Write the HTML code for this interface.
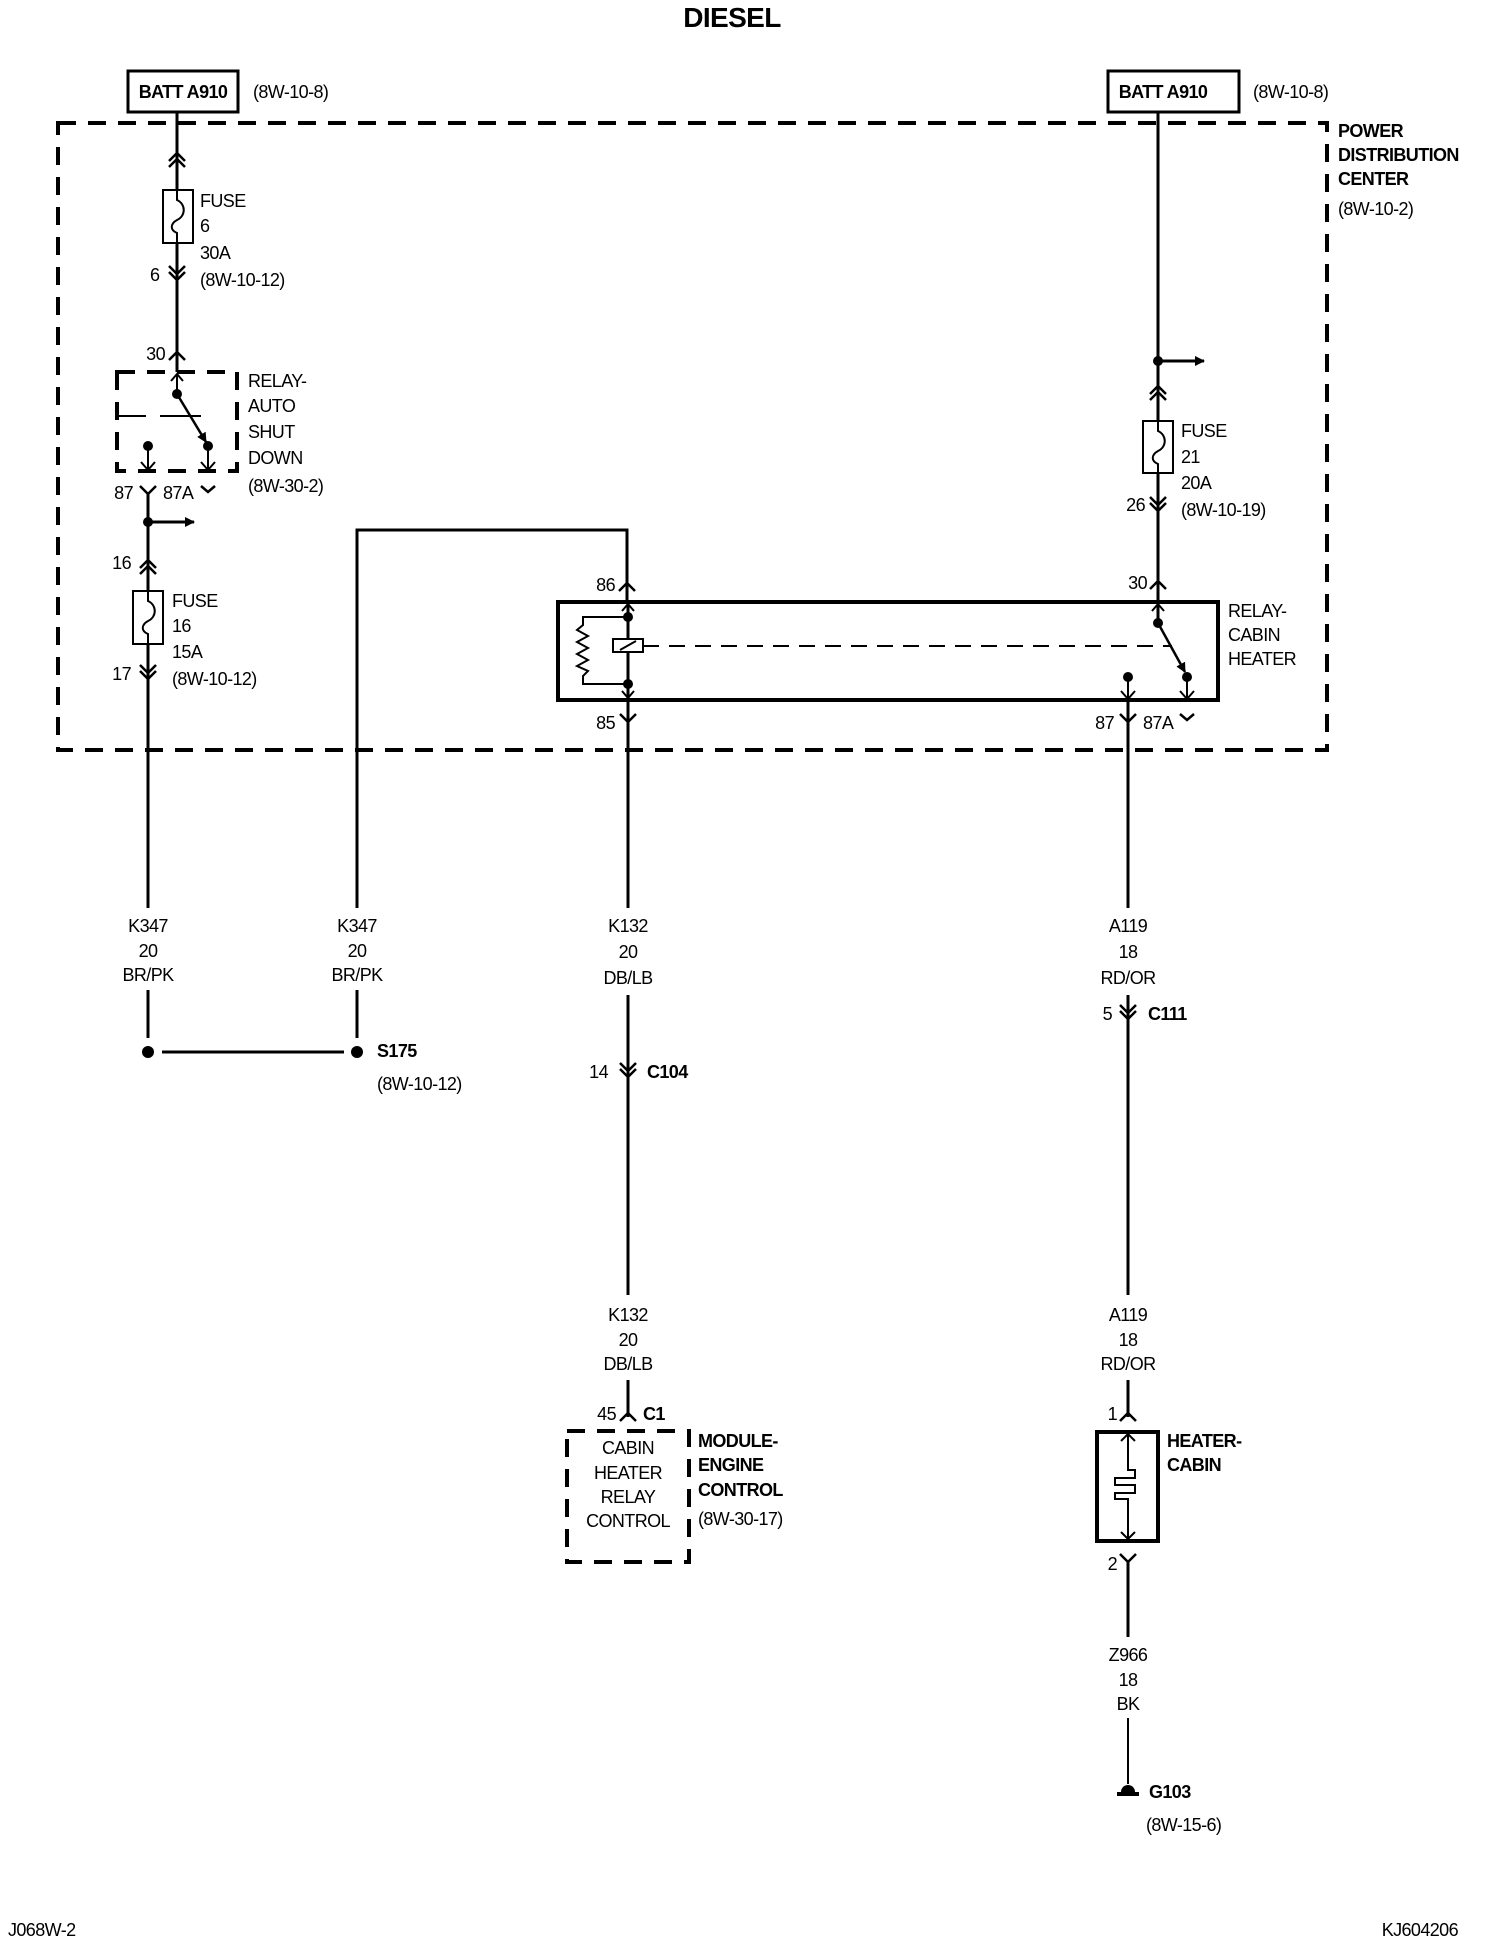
<!DOCTYPE html>
<html><head><meta charset="utf-8"><style>
html,body{margin:0;padding:0;background:#fff;}
svg{display:block;}
text{font-family:"Liberation Sans Narrow","Liberation Sans",sans-serif;font-size:18px;letter-spacing:-0.6px;fill:#000;}
.b{font-weight:bold;}
</style></head><body>
<svg width="1504" height="1950" viewBox="0 0 1504 1950" xmlns="http://www.w3.org/2000/svg">
<defs>
<marker id="ah" markerWidth="10" markerHeight="10" refX="9" refY="5" orient="auto" markerUnits="userSpaceOnUse"><path d="M0,0 L10,5 L0,10 z" fill="#000"/></marker>
</defs>
<g fill="none" stroke="#000">
<rect x="58" y="123" width="1269" height="627" stroke-width="4" stroke-dasharray="18 12"/>
<rect x="128" y="71" width="110" height="41" stroke-width="3"/>
<rect x="1108" y="71" width="131" height="41" stroke-width="3"/>

<line x1="177" y1="112" x2="177" y2="372" stroke-width="3"/>
<path d="M169,161 L177,153 L185,161 M169,167 L177,159 L185,167" stroke-width="2.5"/>
<rect x="163" y="190" width="30" height="53" stroke-width="2" fill="#fff"/>
<path d="M177,190 L177,200 C186,204 186,216 177,220 C170,224 170,230 177,233 L177,243" stroke-width="2"/>
<path d="M169,266 L177,274 L185,266 M169,272 L177,280 L185,272" stroke-width="2.5"/>
<path d="M169,360 L177,352 L185,360" stroke-width="2.5"/>

<path d="M117,372 L237,372 L237,471 L117,471 Z" stroke-width="4" stroke-dasharray="18 12"/>
<line x1="117" y1="416" x2="146" y2="416" stroke-width="2"/>
<line x1="160" y1="416" x2="201" y2="416" stroke-width="2"/>
<line x1="177" y1="394" x2="177" y2="374" stroke-width="2"/>
<path d="M171,381 L177,374 L183,381" stroke-width="2"/>
<line x1="177" y1="394" x2="206" y2="442" stroke-width="2.5" marker-end="url(#ah)"/>
<line x1="148" y1="446" x2="148" y2="470" stroke-width="2"/>
<path d="M141,462 L148,470 L155,462" stroke-width="2"/>
<line x1="208" y1="446" x2="208" y2="470" stroke-width="2"/>
<path d="M201,462 L208,470 L215,462" stroke-width="2"/>
<path d="M140,486 L148,494 L156,486 M201,486 L208,492 L215,486" stroke-width="2.5"/>

<line x1="148" y1="494" x2="148" y2="908" stroke-width="3"/>
<line x1="148" y1="522" x2="194" y2="522" stroke-width="3" marker-end="url(#ah)"/>
<path d="M140,568 L148,560 L156,568 M140,574 L148,566 L156,574" stroke-width="2.5"/>
<rect x="133" y="591" width="30" height="53" stroke-width="2" fill="#fff"/>
<path d="M148,591 L148,601 C157,605 157,617 148,621 C141,625 141,631 148,634 L148,644" stroke-width="2"/>
<path d="M140,665 L148,673 L156,665 M140,671 L148,679 L156,671" stroke-width="2.5"/>

<path d="M357,908 L357,530 L627,530 L627,602" stroke-width="3"/>
<line x1="357" y1="990" x2="357" y2="1038" stroke-width="3"/>
<line x1="148" y1="990" x2="148" y2="1038" stroke-width="3"/>
<line x1="162" y1="1052" x2="344" y2="1052" stroke-width="3"/>
<path d="M619,591 L627,583 L635,591" stroke-width="2.5"/>

<rect x="558" y="602" width="660" height="98" stroke-width="4"/>
<line x1="628" y1="604" x2="628" y2="698" stroke-width="3"/>
<path d="M622,611 L628,604 L634,611 M622,691 L628,698 L634,691" stroke-width="2"/>
<path d="M628,617 L583,617 L583,625 L577,630 L588,636 L577,642 L588,648 L577,654 L588,660 L577,666 L588,671 L583,676 L583,684 L628,684" stroke-width="2"/>
<rect x="613" y="639" width="30" height="13" stroke-width="2" fill="#fff"/>
<line x1="620" y1="650" x2="636" y2="641" stroke-width="2"/>
<line x1="643" y1="646" x2="1172" y2="646" stroke-width="2" stroke-dasharray="16 10"/>
<line x1="1158" y1="112" x2="1158" y2="623" stroke-width="3"/>
<path d="M1152,611 L1158,604 L1164,611" stroke-width="2"/>
<line x1="1158" y1="623" x2="1185" y2="672" stroke-width="2.5" marker-end="url(#ah)"/>
<line x1="1128" y1="677" x2="1128" y2="699" stroke-width="2"/>
<path d="M1121,691 L1128,699 L1135,691" stroke-width="2"/>
<line x1="1187" y1="677" x2="1187" y2="699" stroke-width="2"/>
<path d="M1180,691 L1187,699 L1194,691" stroke-width="2"/>
<path d="M620,714 L628,722 L636,714 M1120,714 L1128,722 L1136,714 M1180,714 L1187,720 L1194,714" stroke-width="2.5"/>
<line x1="628" y1="702" x2="628" y2="908" stroke-width="3"/>
<line x1="1128" y1="702" x2="1128" y2="908" stroke-width="3"/>

<line x1="1158" y1="361" x2="1204" y2="361" stroke-width="3" marker-end="url(#ah)"/>
<path d="M1150,394 L1158,386 L1166,394 M1150,400 L1158,392 L1166,400" stroke-width="2.5"/>
<rect x="1143" y="421" width="30" height="52" stroke-width="2" fill="#fff"/>
<path d="M1158,421 L1158,431 C1167,435 1167,447 1158,451 C1151,455 1151,461 1158,464 L1158,473" stroke-width="2"/>
<path d="M1150,497 L1158,505 L1166,497 M1150,503 L1158,511 L1166,503" stroke-width="2.5"/>
<path d="M1150,589 L1158,581 L1166,589" stroke-width="2.5"/>

<line x1="628" y1="995" x2="628" y2="1295" stroke-width="3"/>
<path d="M620,1063 L628,1071 L636,1063 M620,1069 L628,1077 L636,1069" stroke-width="2.5"/>
<line x1="628" y1="1380" x2="628" y2="1417" stroke-width="3"/>
<path d="M620,1421 L628,1413 L636,1421" stroke-width="2.5"/>
<rect x="567" y="1431" width="122" height="131" stroke-width="4" stroke-dasharray="18 12"/>

<line x1="1128" y1="995" x2="1128" y2="1295" stroke-width="3"/>
<path d="M1120,1005 L1128,1013 L1136,1005 M1120,1011 L1128,1019 L1136,1011" stroke-width="2.5"/>
<line x1="1128" y1="1380" x2="1128" y2="1417" stroke-width="3"/>
<path d="M1120,1421 L1128,1413 L1136,1421" stroke-width="2.5"/>
<rect x="1097" y="1432" width="61" height="109" stroke-width="4"/>
<path d="M1128,1434 L1128,1470 L1135,1470 L1135,1478 L1115,1478 L1115,1485 L1135,1485 L1135,1493 L1115,1493 L1115,1499 L1128,1499 L1128,1539" stroke-width="2"/>
<path d="M1121,1441 L1128,1434 L1135,1441 M1121,1532 L1128,1539 L1135,1532" stroke-width="2"/>
<path d="M1120,1554 L1128,1562 L1136,1554" stroke-width="2.5"/>
<line x1="1128" y1="1560" x2="1128" y2="1637" stroke-width="3"/>
<line x1="1128" y1="1718" x2="1128" y2="1784" stroke-width="2"/>
</g>
<g fill="#000">
<circle cx="177" cy="394" r="5"/><circle cx="148" cy="446" r="5"/><circle cx="208" cy="446" r="5"/>
<circle cx="148" cy="522" r="5"/>
<circle cx="628" cy="617" r="5"/><circle cx="628" cy="684" r="5"/>
<circle cx="1158" cy="623" r="5"/><circle cx="1128" cy="677" r="5"/><circle cx="1187" cy="677" r="5"/>
<circle cx="1158" cy="361" r="5"/>
<circle cx="148" cy="1052" r="6"/><circle cx="357" cy="1052" r="6"/>
<path d="M1121,1792 a7,7 0 0 1 14,0 z"/><rect x="1117" y="1792" width="22" height="4"/>
</g>

<text x="732" y="27" class="b" style="font-size:28px" text-anchor="middle">DIESEL</text>
<text x="183" y="98" class="b" text-anchor="middle">BATT A910</text>
<text x="253" y="98">(8W-10-8)</text>
<text x="1163" y="98" class="b" text-anchor="middle">BATT A910</text>
<text x="1253" y="98">(8W-10-8)</text>
<text x="1338" y="137" class="b">POWER</text>
<text x="1338" y="161" class="b">DISTRIBUTION</text>
<text x="1338" y="185" class="b">CENTER</text>
<text x="1338" y="215">(8W-10-2)</text>

<text x="200" y="207">FUSE</text><text x="200" y="232">6</text><text x="200" y="259">30A</text><text x="200" y="286">(8W-10-12)</text>
<text x="150" y="281">6</text>
<text x="165" y="360" text-anchor="end">30</text>
<text x="248" y="387">RELAY-</text><text x="248" y="412">AUTO</text><text x="248" y="438">SHUT</text><text x="248" y="464">DOWN</text><text x="248" y="492">(8W-30-2)</text>
<text x="133" y="499" text-anchor="end">87</text><text x="163" y="499">87A</text>
<text x="131" y="569" text-anchor="end">16</text>
<text x="172" y="607">FUSE</text><text x="172" y="632">16</text><text x="172" y="658">15A</text><text x="172" y="685">(8W-10-12)</text>
<text x="131" y="680" text-anchor="end">17</text>

<text x="615" y="591" text-anchor="end">86</text>
<text x="615" y="729" text-anchor="end">85</text>
<text x="1147" y="589" text-anchor="end">30</text>
<text x="1181" y="437">FUSE</text><text x="1181" y="463">21</text><text x="1181" y="489">20A</text><text x="1181" y="516">(8W-10-19)</text>
<text x="1145" y="511" text-anchor="end">26</text>
<text x="1228" y="617">RELAY-</text><text x="1228" y="641">CABIN</text><text x="1228" y="665">HEATER</text>
<text x="1114" y="729" text-anchor="end">87</text><text x="1143" y="729">87A</text>

<g text-anchor="middle">
<text x="148" y="932">K347</text><text x="148" y="957">20</text><text x="148" y="981">BR/PK</text>
<text x="357" y="932">K347</text><text x="357" y="957">20</text><text x="357" y="981">BR/PK</text>
<text x="628" y="932">K132</text><text x="628" y="958">20</text><text x="628" y="984">DB/LB</text>
<text x="628" y="1321">K132</text><text x="628" y="1346">20</text><text x="628" y="1370">DB/LB</text>
<text x="1128" y="932">A119</text><text x="1128" y="958">18</text><text x="1128" y="984">RD/OR</text>
<text x="1128" y="1321">A119</text><text x="1128" y="1346">18</text><text x="1128" y="1370">RD/OR</text>
<text x="628" y="1454">CABIN</text><text x="628" y="1479">HEATER</text><text x="628" y="1503">RELAY</text><text x="628" y="1527">CONTROL</text>
<text x="1128" y="1661">Z966</text><text x="1128" y="1686">18</text><text x="1128" y="1710">BK</text>
</g>
<text x="377" y="1057" class="b">S175</text><text x="377" y="1090">(8W-10-12)</text>
<text x="608" y="1078" text-anchor="end">14</text><text x="647" y="1078" class="b">C104</text>
<text x="1112" y="1020" text-anchor="end">5</text><text x="1148" y="1020" class="b">C111</text>
<text x="616" y="1420" text-anchor="end">45</text><text x="643" y="1420" class="b">C1</text>
<text x="698" y="1447" class="b">MODULE-</text><text x="698" y="1471" class="b">ENGINE</text><text x="698" y="1496" class="b">CONTROL</text><text x="698" y="1525">(8W-30-17)</text>
<text x="1117" y="1420" text-anchor="end">1</text>
<text x="1117" y="1570" text-anchor="end">2</text>
<text x="1167" y="1447" class="b">HEATER-</text><text x="1167" y="1471" class="b">CABIN</text>
<text x="1149" y="1798" class="b">G103</text><text x="1146" y="1831">(8W-15-6)</text>
<text x="8" y="1936">J068W-2</text>
<text x="1458" y="1936" text-anchor="end">KJ604206</text>
</svg>
</body></html>
